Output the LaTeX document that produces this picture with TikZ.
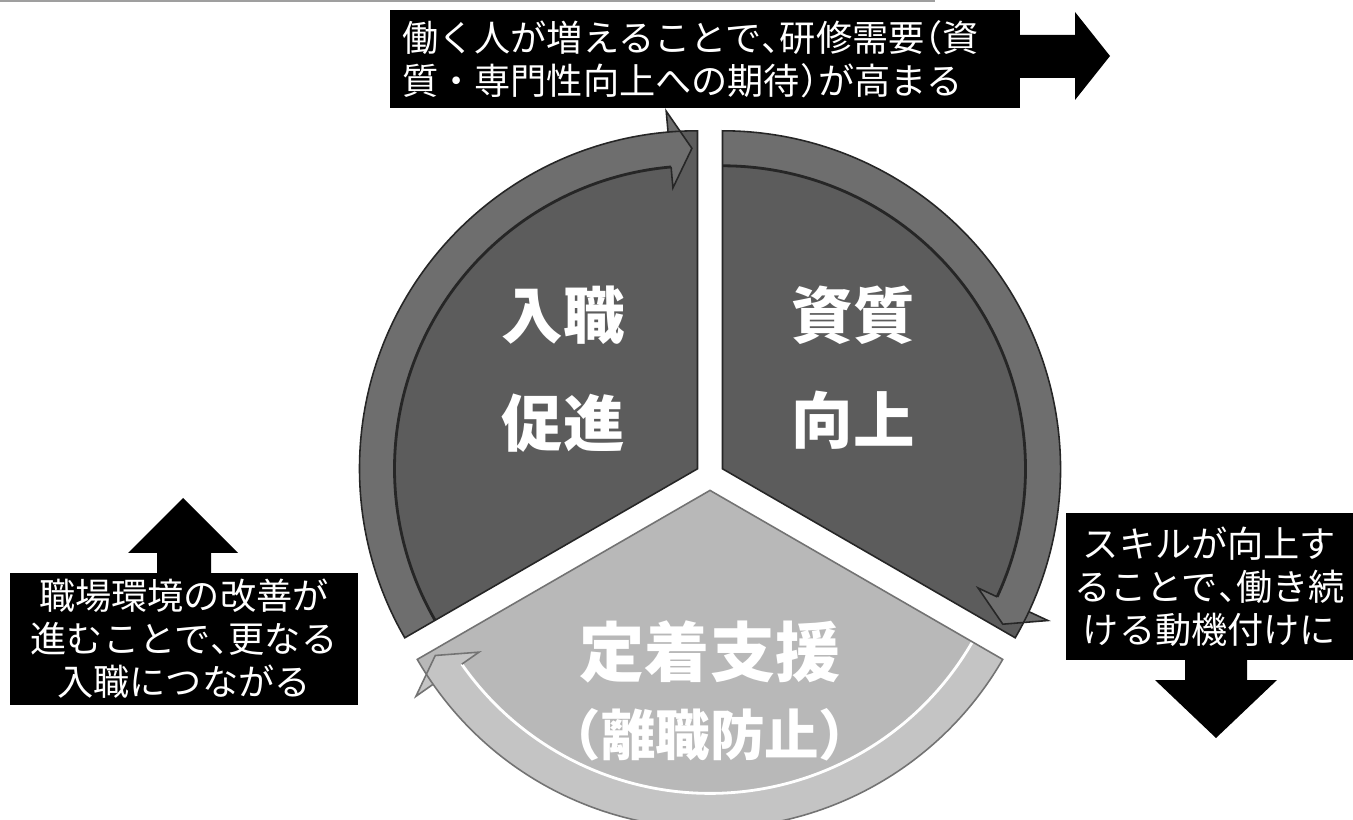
\documentclass[tikz,border=0pt]{standalone}
\usepackage{fontspec}
\newfontfamily\jp{Noto Sans CJK JP}
\definecolor{secdark}{HTML}{5C5C5C}
\definecolor{banddark}{HTML}{6E6E6E}
\definecolor{seclight}{HTML}{B8B8B8}
\definecolor{bandlight}{HTML}{C4C4C4}
\newcommand\tou{\makebox[0.5em][l]{、}}
\newcommand\lpar{\makebox[0.5em][r]{（}}
\newcommand\rpar{\makebox[0.5em][l]{）}}
\begin{document}
\begin{tikzpicture}[x=0.02cm,y=0.02cm,
  blackbox/.style={fill=black, text=white, inner sep=0pt,
    font=\jp\fontsize{20.6pt}{24.4pt}\selectfont},
  seclabel/.style={text=white, inner sep=0pt,
    font=\jp\bfseries\fontsize{35pt}{40pt}\selectfont},
  seclabelbig/.style={text=white, inner sep=0pt,
    font=\jp\bfseries\fontsize{37pt}{42pt}\selectfont},
  seclabelsub/.style={text=white, inner sep=0pt,
    font=\jp\bfseries\fontsize{31pt}{36pt}\selectfont},
  rim/.style={line width=0.9pt},
  bandline/.style={line width=1.6pt}]
\useasboundingbox (0,0) rectangle (1353,819);
\clip (0,0) rectangle (1353,819);
\fill[white] (0,0) rectangle (1353,819);

% header rule at the top edge
\draw[gray!75, line width=1.6pt] (0,818) -- (935,818);

% ---- left sector (入職促進)
\begin{scope}[shift={(697.5,350.2)}]
  \fill[secdark] (0,0) -- (90:338) arc[start angle=90,end angle=210,radius=338] -- cycle;
  \fill[banddark] (210:338) arc[start angle=210,end angle=95,radius=338]
     -- (95:359) -- (91:320.5) -- (95:282) -- (95:303)
     arc[start angle=95,end angle=210,radius=303] -- cycle;
  \draw[black!85, bandline] (95:303) arc[start angle=95,end angle=210,radius=303];
  \draw[black!85, rim] (0,0) -- (90:338) arc[start angle=90,end angle=210,radius=338] -- cycle;
  \draw[black!85, rim] (95:338) -- (95:359) -- (91:320.5) -- (95:282) -- (95:303);
\end{scope}

% ---- right sector (資質向上)
\begin{scope}[shift={(722.5,350.2)}]
  \fill[secdark] (0,0) -- (-30:338) arc[start angle=-30,end angle=90,radius=338] -- cycle;
  \fill[banddark] (90:338) arc[start angle=90,end angle=-25,radius=338]
     -- (-25:359) -- (-29:320.5) -- (-25:282) -- (-25:303)
     arc[start angle=-25,end angle=90,radius=303] -- cycle;
  \draw[black!85, bandline] (-25:303) arc[start angle=-25,end angle=90,radius=303];
  \draw[black!85, rim] (0,0) -- (-30:338) arc[start angle=-30,end angle=90,radius=338] -- cycle;
  \draw[black!85, rim] (-25:338) -- (-25:359) -- (-29:320.5) -- (-25:282) -- (-25:303);
\end{scope}

% ---- bottom sector (定着支援)
\begin{scope}[shift={(710,328.6)}]
  \fill[seclight] (0,0) -- (210:338) arc[start angle=210,end angle=330,radius=338] -- cycle;
  \fill[bandlight] (330:338) arc[start angle=330,end angle=215,radius=338]
     -- (215:359) -- (211:320.5) -- (215:282) -- (215:303)
     arc[start angle=215,end angle=330,radius=303] -- cycle;
  \draw[white, bandline] (215:303) arc[start angle=215,end angle=330,radius=303];
  \draw[black!55, rim] (0,0) -- (210:338) arc[start angle=210,end angle=330,radius=338] -- cycle;
  \draw[black!55, rim] (215:338) -- (215:359) -- (211:320.5) -- (215:282) -- (215:303);
\end{scope}

% sector labels
\node[seclabel] (nyushoku) at (563,504) {入職};
\node[seclabel] (sokushin) at (563,396) {促進};
\node[seclabel] (shishitsu) at (853,504) {資質};
\node[seclabel] (kojo) at (853,399) {向上};
\node[seclabelbig] (teichaku) at (710,167) {定着支援};
\node[seclabelsub] (rishoku) at (710,84) {\lpar 離職防止\rpar};

% ---- top box with right arrow
\node[blackbox, minimum width=12.6cm, minimum height=1.96cm, text width=12.12cm, align=left]
  (topbox) at (705,760)
  {働く人が増えることで\tou 研修需要\lpar 資\\質・専門性向上への期待\rpar が高まる};
\fill[black] (1018,784) -- (1075,784) -- (1075,807) -- (1110,763)
  -- (1075,719) -- (1075,741) -- (1018,741) -- cycle;

% ---- left box with up arrow
\node[blackbox, minimum width=6.96cm, minimum height=2.64cm, align=center]
  (leftbox) at (184,180)
  {職場環境の改善が\\進むことで\tou 更なる\\入職につながる};
\fill[black] (157,244) -- (157,266) -- (128,266) -- (183,321)
  -- (238,266) -- (211,266) -- (211,244) -- cycle;

% ---- right box with down arrow
\node[blackbox, minimum width=5.74cm, minimum height=2.94cm, align=center]
  (rightbox) at (1209.5,232.5)
  {スキルが向上す\\ることで\tou 働き続\\ける動機付けに};
\fill[black] (1185,161) -- (1185,139) -- (1155,139) -- (1216,81)
  -- (1277,139) -- (1247,139) -- (1247,161) -- cycle;
\end{tikzpicture}
\end{document}
